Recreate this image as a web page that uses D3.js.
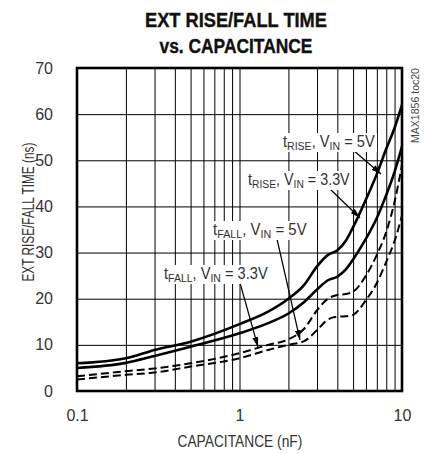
<!DOCTYPE html>
<html>
<head>
<meta charset="utf-8">
<script src="https://cdn.jsdelivr.net/npm/d3@7"></script>
<style>
  html, body { margin: 0; padding: 0; background: #fff; }
  svg { display: block; }
  text { font-family: "Liberation Sans", Arial, sans-serif; }
</style>
</head>
<body>
<svg id="chart" width="425" height="454"></svg>
<script>
// ---- data ----
const capacitance = [0.1, 0.2, 0.3, 0.5, 1, 1.5, 2, 2.5, 3, 3.5, 4, 4.5, 5, 6, 7, 8, 9, 10];
const riseVin5   = [6.0, 7.1, 8.9, 10.7, 14.5, 17.2, 20.0, 23.0, 27.0, 29.5, 30.5, 32.5, 35.5, 41.5, 47.0, 52.5, 57.0, 62.0];
const riseVin33  = [5.0, 6.1, 7.6, 9.6, 12.5, 14.7, 16.8, 19.3, 22.0, 24.0, 24.8, 26.3, 28.5, 33.0, 37.5, 42.5, 47.5, 53.0];
const fallVin5   = [3.2, 4.3, 4.9, 6.0, 8.2, 10.0, 11.2, 13.5, 17.5, 20.0, 20.8, 21.0, 21.5, 25.0, 29.5, 34.5, 41.0, 49.0];
const fallVin33  = [2.5, 3.5, 4.0, 5.3, 7.1, 8.9, 10.0, 10.8, 13.2, 15.5, 16.1, 16.2, 16.5, 19.7, 23.4, 28.0, 32.5, 38.0];
const xTickLabels = [0.1, 1, 10];
const yTickLabels = [0, 10, 20, 30, 40, 50, 60, 70];
const xGridValues = [0.2,0.3,0.4,0.5,0.6,0.7,0.8,0.9,1,2,3,4,5,6,7,8,9];
const yGridValues = [10, 20, 30, 40, 50, 60];

const series = [
  { name: "tRISE, VIN = 5V",   values: riseVin5,  dashed: false },
  { name: "tRISE, VIN = 3.3V", values: riseVin33, dashed: false },
  { name: "tFALL, VIN = 5V",   values: fallVin5,  dashed: true },
  { name: "tFALL, VIN = 3.3V", values: fallVin33, dashed: true }
];

// ---- layout ----
const svg = d3.select("#chart");
const L = 77, R = 402, T = 68, B = 391;
const x = d3.scaleLog().domain([0.1, 10]).range([L, R]);
const y = d3.scaleLinear().domain([0, 70]).range([B, T]);

// horizontally squeeze a text to a target width (condensed look)
function fit(textSel, px, py, width, anchor) {
  const w = textSel.node().getBBox().width;
  const s = width / w;
  const dx = anchor === "middle" ? -width / 2 : 0;
  textSel.attr("x", 0).attr("y", 0).attr("text-anchor", "start")
    .attr("transform", `translate(${px + dx},${py}) scale(${s},1)`);
}

// title
const t1 = svg.append("text").attr("font-size", 21).attr("font-weight", "bold").attr("fill", "#111")
  .attr("stroke", "#111").attr("stroke-width", 0.4).text("EXT RISE/FALL TIME");
fit(t1, 236, 27, 182, "middle");
const t2 = svg.append("text").attr("font-size", 21).attr("font-weight", "bold").attr("fill", "#111")
  .attr("stroke", "#111").attr("stroke-width", 0.4).text("vs. CAPACITANCE");
fit(t2, 236, 53, 153, "middle");

// grid
const gx = svg.append("g").attr("transform", `translate(0,${B})`)
  .call(d3.axisBottom(x).tickValues(xGridValues).tickSize(-(B - T)).tickFormat(""));
gx.select(".domain").remove();
gx.selectAll("line").attr("stroke", "#000").attr("stroke-width", 1);

const gy = svg.append("g").attr("transform", `translate(${L},0)`)
  .call(d3.axisLeft(y).tickValues(yGridValues).tickSize(-(R - L)).tickFormat(""));
gy.select(".domain").remove();
gy.selectAll("line").attr("stroke", "#000").attr("stroke-width", 1);

// tick labels
const ax = svg.append("g").attr("transform", `translate(0,${B})`)
  .call(d3.axisBottom(x).tickValues(xTickLabels).tickSize(0).tickPadding(19)
    .tickFormat(d => d3.format("")(d)));
ax.select(".domain").remove();
ax.selectAll("text").attr("font-size", 16).attr("fill", "#333").attr("font-family", null);

const ay = svg.append("g").attr("transform", `translate(${L},0)`)
  .call(d3.axisLeft(y).tickValues(yTickLabels).tickSize(0).tickPadding(24));
ay.select(".domain").remove();
ay.selectAll("text").attr("font-size", 16).attr("fill", "#333").attr("font-family", null);

// axis titles
const xt = svg.append("text").attr("font-size", 16).attr("fill", "#333").text("CAPACITANCE (nF)");
fit(xt, 240, 447, 125, "middle");
const ytG = svg.append("g").attr("transform", "translate(34,212) rotate(-90)");
const yt = ytG.append("text").attr("font-size", 16).attr("fill", "#333").text("EXT RISE/FALL TIME (ns)");
fit(yt, 0, 0, 139, "middle");
svg.append("text").attr("transform", "translate(419,143) rotate(-90)").attr("text-anchor", "start")
  .attr("font-size", 10).attr("fill", "#444").attr("textLength", 75).attr("lengthAdjust", "spacingAndGlyphs")
  .text("MAX1856 toc20");

// curves
svg.append("clipPath").attr("id", "plotclip").append("rect")
  .attr("x", L).attr("y", T).attr("width", R - L).attr("height", B - T);
const line = d3.line().x(d => x(d[0])).y(d => y(d[1])).curve(d3.curveMonotoneX);
svg.append("g").attr("clip-path", "url(#plotclip)").selectAll("path").data(series).join("path")
  .attr("d", s => line(capacitance.map((c, i) => [c, s.values[i]])))
  .attr("fill", "none").attr("stroke", "#000")
  .attr("stroke-width", s => s.dashed ? 2 : 2.6)
  .attr("stroke-dasharray", s => s.dashed ? "8,4" : null);

// frame
svg.append("rect").attr("x", L).attr("y", T).attr("width", R - L).attr("height", B - T)
  .attr("fill", "none").attr("stroke", "#000").attr("stroke-width", 2.6);

// annotations
svg.append("defs").append("marker").attr("id", "arrow").attr("viewBox", "0 0 10 6")
  .attr("refX", 10).attr("refY", 3).attr("markerWidth", 10).attr("markerHeight", 6)
  .attr("markerUnits", "userSpaceOnUse").attr("orient", "auto")
  .append("path").attr("d", "M0,0 L10,3 L0,6 Z").attr("fill", "#000");

const annotations = [
  { t: "RISE", v: "5V",   x: 283, y: 147, w: 92,  from: [353, 150], to: [381, 174] },
  { t: "RISE", v: "3.3V", x: 248, y: 185, w: 102, from: [330, 189], to: [360, 218] },
  { t: "FALL", v: "5V",   x: 213, y: 235, w: 94,  from: [277, 239], to: [300, 340] },
  { t: "FALL", v: "3.3V", x: 164, y: 279, w: 104, from: [240, 283], to: [258, 347] }
];
annotations.forEach(a => {
  svg.append("line").attr("x1", a.from[0]).attr("y1", a.from[1]).attr("x2", a.to[0]).attr("y2", a.to[1])
    .attr("stroke", "#000").attr("stroke-width", 1.2).attr("marker-end", "url(#arrow)");
});
annotations.forEach(a => {
  const bg = svg.append("rect").attr("fill", "#fff");
  const tx = svg.append("text").attr("font-size", 16).attr("fill", "#333");
  tx.append("tspan").text("t");
  tx.append("tspan").attr("font-size", 11.5).attr("dy", 3).text(a.t);
  tx.append("tspan").attr("dy", -3).text(", V");
  tx.append("tspan").attr("font-size", 11.5).attr("dy", 3).text("IN");
  tx.append("tspan").attr("dy", -3).text(" = " + a.v);
  fit(tx, a.x, a.y, a.w, "start");
  bg.attr("x", a.x - 2).attr("y", a.y - 14).attr("width", a.w + 4).attr("height", 19);
});
</script>
</body>
</html>
